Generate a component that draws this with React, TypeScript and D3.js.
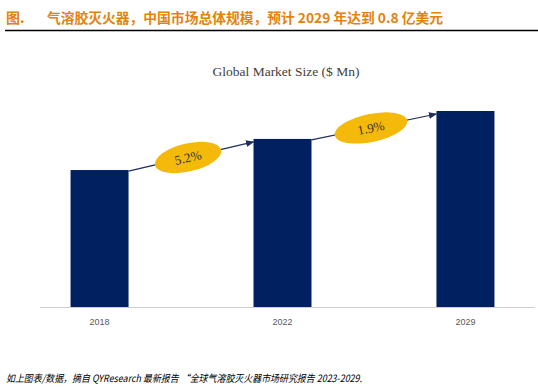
import React from "react";
import * as d3 from "d3";

const years = ["2018", "2022", "2029"];
const values = [55.9, 68.6, 80.0];
const cagrLabels = ["5.2%", "1.9%"];
const titleText = "气溶胶灭火器，中国市场总体规模，预计 2029 年达到 0.8 亿美元";
const chartTitle = "Global Market Size ($ Mn)";
const footer = "如上图表/数据，摘自 QYResearch 最新报告 “全球气溶胶灭火器市场研究报告 2023-2029.";

const W = 538;
const H = 391;
const baseY = 307;

export default function App() {
  const x = d3.scaleBand<string>().domain(years).range([40, 525]).paddingInner(0.683).paddingOuter(0.167);
  const y = d3.scaleLinear().domain([0, 80]).range([baseY, 111]);
  const bw = x.bandwidth();

  const arrows = years.slice(0, -1).map((yr, i) => {
    const x1 = (x(yr) as number) + bw;
    const y1 = y(values[i]) + 1;
    const x2 = x(years[i + 1]) as number;
    const y2 = y(values[i + 1]) + 3;
    return { x1, y1, x2, y2, label: cagrLabels[i] };
  });

  return (
    <svg width={W} height={H} style={{ position: "absolute", left: 0, top: 0, background: "#fff" }}>
      <defs>
        <marker id="ah" viewBox="0 0 10 10" refX="9" refY="5" markerWidth="7" markerHeight="7" orient="auto">
          <path d="M0,1 L10,5 L0,9 z" fill="#1f2f5a" />
        </marker>
      </defs>
      <text x={6} y={23} fill="#E3820E" fontSize={14} fontWeight="bold" fontFamily="'Noto Sans CJK SC', sans-serif">图.</text>
      <text x={47} y={23} fill="#E3820E" fontSize={13.5} fontWeight="bold" fontFamily="'Noto Sans CJK SC', sans-serif" textLength={396} lengthAdjust="spacingAndGlyphs">{titleText}</text>
      <line x1={5} x2={538} y1={30.5} y2={30.5} stroke="#000" strokeWidth={1.5} />
      <text x={286} y={76} textAnchor="middle" fill="#404040" fontSize={13.5} fontFamily="'Liberation Serif', 'Times New Roman', serif">{chartTitle}</text>
      {years.map((yr, i) => (
        <rect key={yr} x={x(yr)} y={y(values[i])} width={bw} height={baseY - y(values[i])} fill="#002060" />
      ))}
      <line x1={40} x2={535} y1={baseY + 0.5} y2={baseY + 0.5} stroke="#d0d0d0" strokeWidth={1} />
      {years.map((yr) => (
        <text key={yr} x={(x(yr) as number) + bw / 2} y={325} textAnchor="middle" fill="#595959" fontSize={9} fontFamily="'Liberation Sans', Arial, sans-serif">{yr}</text>
      ))}
      {arrows.map((a, i) => {
        const cx = (a.x1 + a.x2) / 2 - 3;
        const cy = (a.y1 + a.y2) / 2 + 1;
        const ang = (Math.atan2(a.y2 - a.y1, a.x2 - a.x1) * 180) / Math.PI;
        return (
          <g key={i}>
            <line x1={a.x1} y1={a.y1} x2={a.x2} y2={a.y2} stroke="#1f2f5a" strokeWidth={1.2} markerEnd="url(#ah)" />
            <g transform={`translate(${cx},${cy}) rotate(${ang})`}>
              <ellipse cx={0} cy={0} rx={i === 0 ? 34 : 37} ry={14} fill="#F5B90A" />
              <text x={0} y={4.5} textAnchor="middle" fill="#333" fontSize={13} fontFamily="'Liberation Serif', 'Times New Roman', serif">{a.label}</text>
            </g>
          </g>
        );
      })}
      <text x={6} y={382} fill="#000" fontSize={10} fontStyle="italic" fontFamily="'Noto Sans CJK SC', sans-serif" textLength={356} lengthAdjust="spacingAndGlyphs">{footer}</text>
    </svg>
  );
}
